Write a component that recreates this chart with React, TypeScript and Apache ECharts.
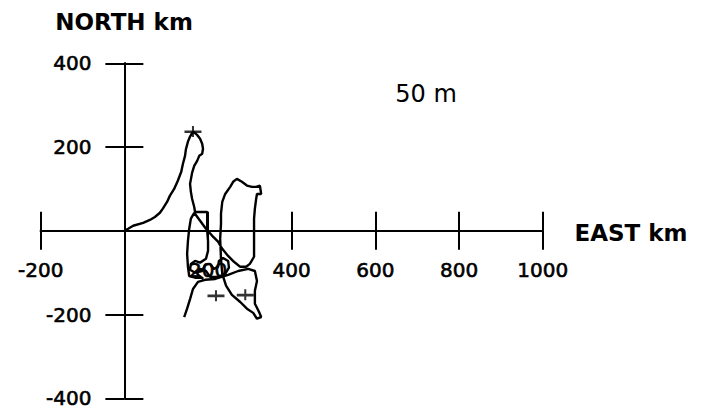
import React, { useEffect, useRef } from "react";
import * as echarts from "echarts";

// Progressive vector path (km east, km north) at 50 m depth
const eastKm = [
  0, 9, 21, 45, 61, 73, 85, 92, 102, 109, 119, 128, 136, 140, 145, 147, 152, 157, 164,
  174, 181, 186, 188, 186, 179, 174, 167, 162, 157, 159, 162, 167, 169, 181, 198, 198,
  198, 200, 200, 195, 181, 169, 159, 157, 169, 186, 193, 205, 214, 224, 226, 236, 248,
  250, 241, 224, 205, 195, 181, 174, 188, 186, 169, 155, 152, 150, 152, 155, 159, 167, 181, 195, 210, 224,
  234, 248, 262, 277, 291, 300, 310, 310, 310, 310, 312, 315, 317, 327, 324, 315, 305,
  293, 281, 269, 260, 253, 241, 234, 231, 231, 229, 231, 234, 243, 257, 277, 293, 308,
  317, 327, 322, 312, 312, 317, 312, 296, 272, 248, 217, 193, 176, 164, 157, 150, 143,
];
const northKm = [
  0, 5, 12, 19, 26, 33, 43, 53, 69, 84, 100, 120, 141, 160, 179, 194, 213, 225, 237,
  229, 220, 208, 196, 184, 179, 167, 155, 139, 112, 93, 76, 57, 45, 45, 45, 24,
  0, -24, -48, -67, -76, -72, -79, -93, -100, -96, -81, -79, -91, -86, -72, -65, -72,
  -88, -103, -110, -110, -96, -91, -103, -115, -112, -112, -108, -86, -55, -24, 5, 29, 43, 24, 5, -12, -26,
  -43, -60, -74, -86, -86, -79, -62, -31, 0, 29, 53, 76, 88, 88, 108, 105, 105,
  108, 117, 124, 117, 105, 88, 69, 41, 17, -19, -67, -103, -131, -153, -170, -186, -196,
  -210, -206, -194, -174, -143, -120, -96, -91, -96, -105, -115, -117, -122, -139, -163, -186, -206,
];

// Cross marks along the path
const markEast = [164, 219, 289];
const markNorth = [237, -155, -153];

// Axis ranges / ticks
const xMin = -200;
const xMax = 1000;
const xStep = 200;
const yMin = -400;
const yMax = 400;
const yStep = 200;

const xTitle = "EAST km";
const yTitle = "NORTH km";
const depthNote = "50 m";

export default function App() {
  const ref = useRef<HTMLDivElement>(null);

  useEffect(() => {
    if (!ref.current) return;
    const chart = echarts.init(ref.current, undefined, { renderer: "svg" });
    const font = "DejaVu Sans";
    const lbl = (v: number) => (v === 0 ? "" : String(v));
    const gl = 40.7, gt = 63.3, gw = 502, gh = 335;
    // pixel offsets so that axes cross at (0, 0)
    const zeroX = gl + (gw * (0 - xMin)) / (xMax - xMin);
    const zeroY = gt + (gh * (yMax - 0)) / (yMax - yMin);
    const axisLine = { onZero: false, lineStyle: { color: "#000", width: 2 } };
    const axisTick = { show: true, length: 19, inside: false, lineStyle: { color: "#000", width: 2 } };
    const labelStyle = {
      formatter: lbl, fontSize: 20, color: "#000", fontFamily: font,
      textBorderColor: "#000", textBorderWidth: 0.6,
      showMinLabel: true, showMaxLabel: true, hideOverlap: false,
    };
    const path = eastKm.map((e, i) => [e, northKm[i]]);
    const marks = markEast.map((e, i) => [e, markNorth[i]]);

    chart.setOption({
      animation: false,
      backgroundColor: "#fff",
      grid: { left: gl, top: gt, width: gw, height: gh, containLabel: false, outerBoundsMode: "none" },
      xAxis: [
        {
          type: "value", min: xMin, max: xMax, interval: xStep, position: "bottom",
          offset: zeroY - (gt + gh),
          axisLine, axisTick, splitLine: { show: false },
          axisLabel: { ...labelStyle, margin: 29 },
        },
        {
          type: "value", min: xMin, max: xMax, interval: xStep, position: "top",
          offset: gt - zeroY,
          axisLine, axisTick, splitLine: { show: false }, axisLabel: { show: false },
        },
      ],
      yAxis: [
        {
          type: "value", min: yMin, max: yMax, interval: yStep, position: "left",
          offset: gl - zeroX,
          axisLine, axisTick, splitLine: { show: false },
          axisLabel: { ...labelStyle, margin: 33 },
        },
        {
          type: "value", min: yMin, max: yMax, interval: yStep, position: "right",
          offset: zeroX - (gl + gw),
          axisLine, axisTick, splitLine: { show: false }, axisLabel: { show: false },
        },
      ],
      series: [
        {
          type: "line", xAxisIndex: 0, yAxisIndex: 0, data: path,
          showSymbol: false, symbol: "none",
          lineStyle: { color: "#000", width: 2.4 },
        },
        {
          type: "scatter", xAxisIndex: 0, yAxisIndex: 0, data: marks,
          symbol: "path://M0,4H20V6.4H0ZM8.8,0H11.2V10H8.8Z", symbolSize: [17, 11],
          itemStyle: { color: "#000" },
        },
      ],
      graphic: [
        {
          type: "text", x: 124, y: 22,
          style: { text: yTitle, font: `bold 23px "${font}"`, fill: "#000", align: "center", verticalAlign: "middle" },
        },
        {
          type: "text", x: 631, y: 233,
          style: { text: xTitle, font: `bold 23px "${font}"`, fill: "#000", align: "center", verticalAlign: "middle" },
        },
        {
          type: "text", x: 426, y: 94,
          style: { text: depthNote, font: `24px "${font}"`, fill: "#000", align: "center", verticalAlign: "middle" },
        },
      ],
    });
    return () => chart.dispose();
  }, []);

  return (
    <div
      ref={ref}
      style={{ position: "fixed", left: 0, top: 0, width: 701, height: 410, background: "#fff" }}
    />
  );
}
